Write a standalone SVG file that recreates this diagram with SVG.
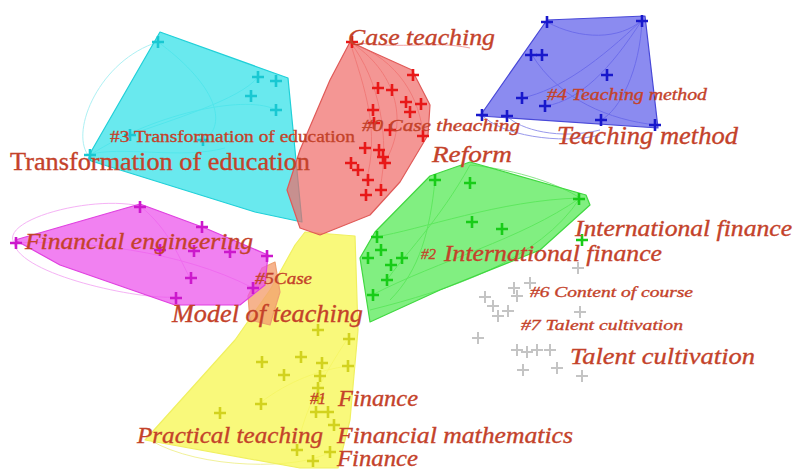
<svg xmlns="http://www.w3.org/2000/svg" width="795" height="471" viewBox="0 0 795 471">
<style>
.hull{stroke-width:1.2;stroke-linejoin:round}
.lbl{font-family:"Liberation Serif","Times New Roman",serif;fill:#c4422a;stroke:#c4422a;stroke-width:0.35;font-style:italic}
.up{font-style:normal}
.arc{fill:none;stroke-width:1}
use{stroke-width:2.6;fill:none}
.r use{stroke:#e81818}
.b use{stroke:#1818cc}
.g use{stroke:#18cc18}
.c use{stroke:#18c8d2}
.m use{stroke:#cc18cc}
.y use{stroke:#d2d21e}
.k use{stroke:#c4c4c4;stroke-width:2}
</style>
<defs>
<path id="p" d="M-6 0H6M0-6V6"/>
</defs>
<rect width="795" height="471" fill="#ffffff"/>

<g id="connectors">
<g stroke="#9aeef2" opacity="0.8">
<path class="arc" d="M158 42C100 60 70 130 88 155"/>
<path class="arc" d="M158 42C210 80 230 120 205 140"/>
<path class="arc" d="M90 155C160 110 250 95 276 110"/>
<path class="arc" d="M130 135C170 120 240 100 258 77"/>
<path class="arc" d="M88 155C120 145 180 160 225 148"/>
</g>
<g stroke="#f4a0f4" opacity="0.8">
<path class="arc" d="M14 243C0 220 90 195 140 206"/>
<path class="arc" d="M14 243C20 275 140 300 175 297"/>
<path class="arc" d="M140 206C170 230 180 260 190 278"/>
<path class="arc" d="M14 243C80 240 180 250 253 288"/>
</g>
<g stroke="#8080e8" opacity="0.8">
<path class="arc" d="M482 115C500 135 560 145 600 135"/>
<path class="arc" d="M507 116C520 130 560 140 600 130"/>
<path class="arc" d="M547 22C580 40 620 40 642 20"/>
<path class="arc" d="M532 55C560 100 610 120 656 125"/>
<path class="arc" d="M642 20C600 60 560 90 522 98"/>
<path class="arc" d="M642 20C640 70 620 110 601 120"/>
<path class="arc" d="M642 20C610 70 580 100 546 106"/>
</g>
<g stroke="#f08c8c" opacity="0.8">
<path class="arc" d="M350 42C400 60 420 100 423 135"/>
<path class="arc" d="M350 42C380 80 390 140 380 188"/>
<path class="arc" d="M350 42C395 70 410 120 385 162"/>
<path class="arc" d="M350 42C365 90 380 130 366 182"/>
<path class="arc" d="M350 42C410 50 430 40 470 48"/>
</g>
<g stroke="#6ee06e" opacity="0.8">
<path class="arc" d="M580 198C520 240 440 260 372 295"/>
<path class="arc" d="M580 198C500 200 420 230 375 237"/>
<path class="arc" d="M470 165C440 220 400 260 387 280"/>
<path class="arc" d="M470 165C520 170 560 185 580 198"/>
<path class="arc" d="M435 180C430 230 420 270 390 300"/>
<path class="arc" d="M580 198C540 260 450 290 370 310"/>
</g>
<g stroke="#eded80" opacity="0.8">
<path class="arc" d="M150 440C200 470 300 470 330 452"/>
<path class="arc" d="M348 338C320 380 300 420 298 450"/>
<path class="arc" d="M260 403C290 380 320 370 348 366"/>
</g>
</g>

<g id="cluster3">
<polygon class="hull" points="160,32 288,78 302,222 255,212 88,160 92,150" fill="#2fe0e8" fill-opacity="0.72" stroke="#20d0d8"/>
<g class="c">
<use href="#p" x="158" y="42"/><use href="#p" x="258" y="77"/><use href="#p" x="276" y="81"/><use href="#p" x="251" y="96"/><use href="#p" x="276" y="110"/><use href="#p" x="130" y="135"/><use href="#p" x="203" y="140"/><use href="#p" x="90" y="155"/>
</g>
</g>

<g id="cluster4">
<polygon class="hull" points="547,20 645,16 658,128 480,116" fill="#5a5aea" fill-opacity="0.7" stroke="#4848d8"/>
<g class="b">
<use href="#p" x="547" y="22"/><use href="#p" x="531" y="55"/><use href="#p" x="542" y="55"/><use href="#p" x="607" y="75"/><use href="#p" x="522" y="98"/><use href="#p" x="545" y="106"/><use href="#p" x="601" y="120"/><use href="#p" x="482" y="115"/><use href="#p" x="507" y="116"/><use href="#p" x="642" y="21"/><use href="#p" x="655" y="125"/>
</g>
</g>

<g id="cluster2">
<polygon class="hull" points="470,162 586,195 590,205 540,250 440,290 370,322 360,258 375,232 430,176" fill="#4ce84c" fill-opacity="0.7" stroke="#40d840"/>
<g class="g">
<use href="#p" x="435" y="180"/><use href="#p" x="470" y="183"/><use href="#p" x="472" y="222"/><use href="#p" x="502" y="229"/><use href="#p" x="377" y="237"/><use href="#p" x="381" y="250"/><use href="#p" x="368" y="258"/><use href="#p" x="402" y="258"/><use href="#p" x="391" y="265"/><use href="#p" x="387" y="280"/><use href="#p" x="373" y="295"/><use href="#p" x="579" y="199"/><use href="#p" x="582" y="240"/>
</g>
</g>

<g id="cluster1">
<polygon class="hull" points="305,232 355,236 358,330 350,420 338,468 300,468 145,440 235,340 270,290 295,245" fill="#f8f85a" fill-opacity="0.8" stroke="#f0f060"/>
<g class="y">
<use href="#p" x="318" y="330"/><use href="#p" x="349" y="339"/><use href="#p" x="262" y="362"/><use href="#p" x="301" y="357"/><use href="#p" x="322" y="363"/><use href="#p" x="348" y="366"/><use href="#p" x="284" y="375"/><use href="#p" x="320" y="376"/><use href="#p" x="318" y="388"/><use href="#p" x="318" y="398"/><use href="#p" x="261" y="404"/><use href="#p" x="328" y="412"/><use href="#p" x="220" y="413"/><use href="#p" x="316" y="412"/><use href="#p" x="297" y="450"/><use href="#p" x="313" y="461"/><use href="#p" x="330" y="452"/><use href="#p" x="334" y="425"/>
</g>
</g>

<g id="cluster5">
<polygon class="hull" points="248,296 262,268 275,262 280,292 270,325 250,320" fill="#f4a070" fill-opacity="0.8" stroke="#eea070"/>
</g>

<g id="cluster6">
<polygon class="hull" points="15,240 140,204 205,228 268,255 265,285 240,305 175,305 60,265" fill="#ec50ec" fill-opacity="0.72" stroke="#e040e0"/>
<g class="m">
<use href="#p" x="140" y="207"/><use href="#p" x="202" y="227"/><use href="#p" x="16" y="243"/><use href="#p" x="160" y="250"/><use href="#p" x="194" y="251"/><use href="#p" x="230" y="252"/><use href="#p" x="191" y="278"/><use href="#p" x="253" y="288"/><use href="#p" x="176" y="298"/><use href="#p" x="267" y="256"/>
</g>
</g>

<g id="cluster0">
<polygon class="hull" points="350,42 412,70 430,105 428,135 400,182 370,215 320,235 300,228 287,190 300,150 330,80" fill="#f06a66" fill-opacity="0.7" stroke="#e05a58"/>
<g class="r">
<use href="#p" x="352" y="42"/><use href="#p" x="413" y="75"/><use href="#p" x="378" y="88"/><use href="#p" x="392" y="90"/><use href="#p" x="406" y="102"/><use href="#p" x="421" y="104"/><use href="#p" x="373" y="110"/><use href="#p" x="410" y="112"/><use href="#p" x="374" y="123"/><use href="#p" x="390" y="130"/><use href="#p" x="423" y="136"/><use href="#p" x="365" y="148"/><use href="#p" x="379" y="150"/><use href="#p" x="383" y="157"/><use href="#p" x="351" y="163"/><use href="#p" x="358" y="170"/><use href="#p" x="385" y="163"/><use href="#p" x="368" y="180"/><use href="#p" x="381" y="190"/><use href="#p" x="366" y="195"/>
</g>
</g>

<g id="cluster7">
<g class="k">
<use href="#p" x="485" y="297"/><use href="#p" x="493" y="306"/><use href="#p" x="498" y="316"/><use href="#p" x="508" y="311"/><use href="#p" x="514" y="288"/><use href="#p" x="530" y="283"/><use href="#p" x="517" y="296"/><use href="#p" x="578" y="268"/><use href="#p" x="580" y="312"/><use href="#p" x="478" y="338"/><use href="#p" x="517" y="350"/><use href="#p" x="527" y="352"/><use href="#p" x="537" y="350"/><use href="#p" x="550" y="350"/><use href="#p" x="523" y="370"/><use href="#p" x="557" y="368"/><use href="#p" x="582" y="376"/>
</g>
</g>

<g id="labels">
<text class="lbl" x="348" y="45" font-size="23" textLength="147" lengthAdjust="spacingAndGlyphs">Case teaching</text>
<text class="lbl" x="362" y="131" font-size="16" textLength="158" lengthAdjust="spacingAndGlyphs">#0 Case theaching</text>
<text class="lbl up" x="110" y="142" font-size="17" textLength="245" lengthAdjust="spacingAndGlyphs">#3 Transformation of education</text>
<text class="lbl up" x="10" y="170" font-size="26" textLength="300" lengthAdjust="spacingAndGlyphs">Transformation of education</text>
<text class="lbl" x="432" y="162" font-size="23" textLength="80" lengthAdjust="spacingAndGlyphs">Reform</text>
<text class="lbl" x="547" y="100" font-size="16" textLength="160" lengthAdjust="spacingAndGlyphs">#4 Teaching method</text>
<text class="lbl" x="557" y="144" font-size="25" textLength="181" lengthAdjust="spacingAndGlyphs">Teaching method</text>
<text class="lbl" x="575" y="236" font-size="23" textLength="217" lengthAdjust="spacingAndGlyphs">International finance</text>
<text class="lbl" x="421" y="259" font-size="15">#2</text>
<text class="lbl" x="444" y="261" font-size="23" textLength="218" lengthAdjust="spacingAndGlyphs">International finance</text>
<text class="lbl" x="25" y="249" font-size="23" textLength="228" lengthAdjust="spacingAndGlyphs">Financial engineering</text>
<text class="lbl" x="255" y="284" font-size="16" textLength="57" lengthAdjust="spacingAndGlyphs">#5Case</text>
<text class="lbl" x="172" y="322" font-size="25" textLength="191" lengthAdjust="spacingAndGlyphs">Model of teaching</text>
<text class="lbl" x="530" y="297" font-size="15" textLength="163" lengthAdjust="spacingAndGlyphs">#6 Content of course</text>
<text class="lbl" x="521" y="330" font-size="15" textLength="162" lengthAdjust="spacingAndGlyphs">#7 Talent cultivation</text>
<text class="lbl" x="570" y="364" font-size="24" textLength="185" lengthAdjust="spacingAndGlyphs">Talent cultivation</text>
<text class="lbl" x="310" y="404" font-size="16">#1</text>
<text class="lbl" x="338" y="406" font-size="23" textLength="80" lengthAdjust="spacingAndGlyphs">Finance</text>
<text class="lbl" x="137" y="443" font-size="23" textLength="186" lengthAdjust="spacingAndGlyphs">Practical teaching</text>
<text class="lbl" x="337" y="443" font-size="23" textLength="236" lengthAdjust="spacingAndGlyphs">Financial mathematics</text>
<text class="lbl" x="337" y="466" font-size="23" textLength="81" lengthAdjust="spacingAndGlyphs">Finance</text>
</g>
</svg>
